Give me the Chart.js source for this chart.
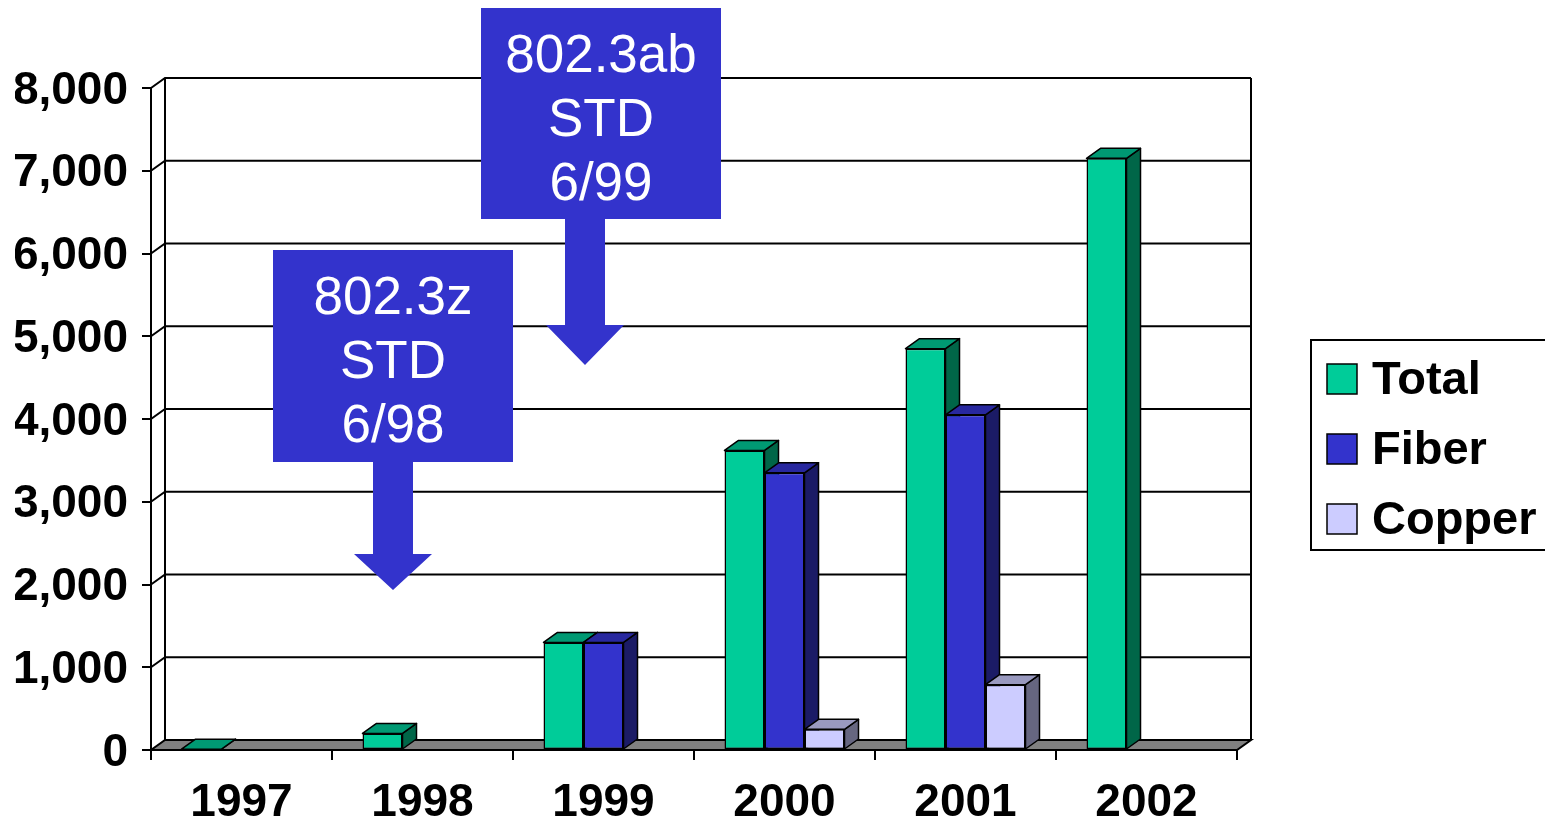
<!DOCTYPE html>
<html>
<head>
<meta charset="utf-8">
<script src="https://cdn.jsdelivr.net/npm/chart.js@4/dist/chart.umd.min.js"></script>
<style>
    html, body { margin: 0; padding: 0; background: #fff; overflow: hidden; }
    canvas { display: block; }
</style>
</head>
<body>
<canvas id="chartCanvas" width="1545" height="824"></canvas>
<script>
// values (ports, thousands)
const years = ['1997', '1998', '1999', '2000', '2001', '2002'];
const totalPorts = [10, 200, 1300, 3620, 4850, 7150];
const fiberPorts = [null, null, 1300, 3350, 4050, null];
const copperPorts = [null, null, null, 250, 790, null];

const seriesNames = ['Total', 'Fiber', 'Copper'];
const frontColors = ['#00CC99', '#3333CC', '#CCCCFF'];
const topColors = ['#009973', '#28289F', '#9999BF'];
const sideColors = ['#006648', '#1B1B66', '#666680'];

const yTicks = [0, 1000, 2000, 3000, 4000, 5000, 6000, 7000, 8000];

// depth of the fake 3d box
const DX = 14, DY = -10;
const FONT = '"Liberation Sans", Arial, sans-serif';

const wallsPlugin = {
    id: 'walls',
    beforeDraw(chart) {
        const {ctx, chartArea: a, scales: {y}} = chart;
        ctx.save();
        ctx.strokeStyle = '#000';
        ctx.lineWidth = 2;
        // gridlines: diagonal on side wall, then along back wall
        y.ticks.forEach(t => {
            if (t.value === 0) return;
            const py = y.getPixelForValue(t.value);
            ctx.beginPath();
            ctx.moveTo(a.left, py);
            ctx.lineTo(a.left + DX, py + DY);
            ctx.lineTo(a.right + DX, py + DY);
            ctx.stroke();
        });
        // back wall edges
        ctx.beginPath();
        ctx.moveTo(a.left + DX, a.top + DY);
        ctx.lineTo(a.left + DX, a.bottom + DY);
        ctx.moveTo(a.right + DX, a.top + DY);
        ctx.lineTo(a.right + DX, a.bottom + DY);
        ctx.stroke();
        // floor
        ctx.beginPath();
        ctx.moveTo(a.left, a.bottom);
        ctx.lineTo(a.right, a.bottom);
        ctx.lineTo(a.right + DX, a.bottom + DY);
        ctx.lineTo(a.left + DX, a.bottom + DY);
        ctx.closePath();
        ctx.fillStyle = '#808080';
        ctx.fill();
        ctx.stroke();
        ctx.restore();
    },
    beforeDatasetsDraw(chart) {
        const ctx = chart.ctx;
        ctx.save();
        ctx.strokeStyle = '#000';
        ctx.lineWidth = 1.5;
        ctx.lineJoin = 'round';
        for (let i = 0; i < years.length; i++) {
            chart.data.datasets.forEach((ds, d) => {
                if (ds.data[i] == null) return;
                const el = chart.getDatasetMeta(d).data[i];
                const {x, y, base, width} = el.getProps(['x', 'y', 'base', 'width'], true);
                const l = x - width / 2, r = x + width / 2;
                // side
                ctx.beginPath();
                ctx.moveTo(r, y);
                ctx.lineTo(r + DX, y + DY);
                ctx.lineTo(r + DX, base + DY);
                ctx.lineTo(r, base);
                ctx.closePath();
                ctx.fillStyle = sideColors[d];
                ctx.fill();
                ctx.stroke();
                // top
                ctx.beginPath();
                ctx.moveTo(l, y);
                ctx.lineTo(r, y);
                ctx.lineTo(r + DX, y + DY);
                ctx.lineTo(l + DX, y + DY);
                ctx.closePath();
                ctx.fillStyle = topColors[d];
                ctx.fill();
                ctx.stroke();
            });
        }
        ctx.restore();
    }
};

// callout boxes with arrows, legend box
const calloutPlugin = {
    id: 'callouts',
    afterDraw(chart) {
        const ctx = chart.ctx;
        const callouts = [
            {lines: ['802.3z', 'STD', '6/98'], box: [273, 250, 240, 212], tipX: 393, tipY: 590, headY: 554},
            {lines: ['802.3ab', 'STD', '6/99'], box: [481, 8, 240, 211], tipX: 585, tipY: 365, headY: 325}
        ];
        ctx.save();
        callouts.forEach(c => {
            const [bx, by, bw, bh] = c.box;
            ctx.fillStyle = '#3333CC';
            ctx.fillRect(bx, by, bw, bh);
            ctx.beginPath();
            ctx.moveTo(c.tipX - 20, by + bh - 1);
            ctx.lineTo(c.tipX + 20, by + bh - 1);
            ctx.lineTo(c.tipX + 20, c.headY);
            ctx.lineTo(c.tipX + 39, c.headY);
            ctx.lineTo(c.tipX, c.tipY);
            ctx.lineTo(c.tipX - 39, c.headY);
            ctx.lineTo(c.tipX - 20, c.headY);
            ctx.closePath();
            ctx.fill();
            ctx.fillStyle = '#fff';
            ctx.font = '53px ' + FONT;
            ctx.textAlign = 'center';
            ctx.textBaseline = 'middle';
            c.lines.forEach((t, k) => ctx.fillText(t, bx + bw / 2, by + 49 + k * 64));
        });

        // legend
        ctx.strokeStyle = '#000';
        ctx.lineWidth = 2;
        ctx.strokeRect(1311, 340, 260, 210);
        ctx.font = 'bold 47px ' + FONT;
        ctx.textAlign = 'left';
        ctx.textBaseline = 'middle';
        chart.data.datasets.forEach((ds, d) => {
            const cy = 379 + d * 70;
            ctx.fillStyle = ds.backgroundColor;
            ctx.fillRect(1327, cy - 15, 30, 30);
            ctx.lineWidth = 1.5;
            ctx.strokeRect(1327, cy - 15, 30, 30);
            ctx.fillStyle = '#000';
            ctx.fillText(ds.label, 1372, cy + 2);
        });
        ctx.restore();
    }
};

const dataSeries = [totalPorts, fiberPorts, copperPorts];

new Chart(document.getElementById('chartCanvas').getContext('2d'), {
    type: 'bar',
    data: {
        labels: years,
        datasets: dataSeries.map((vals, d) => ({
            label: seriesNames[d],
            data: vals,
            backgroundColor: frontColors[d],
            borderColor: '#000',
            borderWidth: 1.5,
            borderSkipped: false,
            barPercentage: 1,
            categoryPercentage: 120 / 181
        }))
    },
    options: {
        responsive: false,
        animation: false,
        devicePixelRatio: 1,
        layout: {padding: {left: 15, right: 308, top: 88, bottom: 0}},
        plugins: {legend: {display: false}, tooltip: {enabled: false}},
        scales: {
            x: {
                grid: {display: true, drawOnChartArea: false, drawTicks: true, tickLength: 10, color: '#000', lineWidth: 2, offset: true},
                border: {display: true, color: '#000', width: 2},
                ticks: {color: '#000', padding: 16, font: {family: FONT, size: 46, weight: 'bold'}},
                afterFit: s => { s.height = 74; }
            },
            y: {
                min: 0,
                max: 8000,
                afterBuildTicks: s => { s.ticks = yTicks.map(v => ({value: v})); },
                grid: {display: true, drawOnChartArea: false, drawTicks: true, tickLength: 9, color: '#000', lineWidth: 2},
                border: {display: true, color: '#000', width: 2},
                ticks: {
                    color: '#000',
                    padding: 14,
                    labelOffset: 3,
                    font: {family: FONT, size: 46, weight: 'bold'},
                    callback: v => v.toLocaleString('en-US')
                },
                afterFit: s => { s.width = 136; }
            }
        }
    },
    plugins: [wallsPlugin, calloutPlugin]
});
</script>
</body>
</html>
